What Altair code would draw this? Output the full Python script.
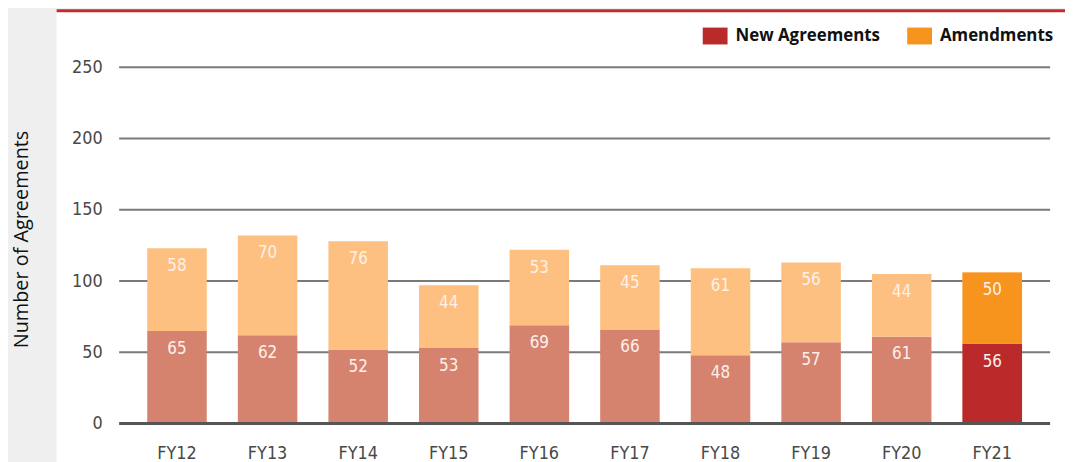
import altair as alt
import pandas as pd

years = ["FY12", "FY13", "FY14", "FY15", "FY16", "FY17", "FY18", "FY19", "FY20", "FY21"]
new_agreements = [65, 62, 52, 53, 69, 66, 48, 57, 61, 56]
amendments = [58, 70, 76, 44, 53, 45, 61, 56, 44, 50]
series_names = ["New Agreements", "Amendments"]
highlight_year = "FY21"
y_ticks = [0, 50, 100, 150, 200, 250]

rows = []
for i, yr in enumerate(years):
    rows.append({"year": yr, "series": series_names[0], "ord": 0, "value": new_agreements[i]})
    rows.append({"year": yr, "series": series_names[1], "ord": 1, "value": amendments[i]})
df = pd.DataFrame(rows)
grid_df = pd.DataFrame({"t": [t for t in y_ticks if t > 0]})

W, H = 938, 359
TICK_FONT = "DejaVu Sans Condensed"

x_axis = alt.Axis(title=None, labelAngle=0, domain=False, ticks=False, labelPadding=21,
                  labelFont=TICK_FONT, labelFontSize=18, labelColor="#484848", zindex=1)
x_enc = alt.X("year:N", sort=years,
              scale=alt.Scale(paddingInner=0.343, paddingOuter=0.31), axis=x_axis)
y_scale = alt.Scale(domain=[0, 250], nice=False)
y_axis = alt.Axis(title="Number of Agreements", values=y_ticks, domain=False, ticks=False,
                  grid=False, labelPadding=17, zindex=1,
                  labelFont=TICK_FONT, labelFontSize=18, labelColor="#484848",
                  titleFont="Open Sans", titleFontSize=20, titleFontWeight="normal",
                  titleColor="#111111", titleX=-92, titleY=173, titleAngle=270,
                  titleAlign="center", titleBaseline="alphabetic")

one = pd.DataFrame({"a": [0]})
panel = alt.Chart(one).mark_rect(color="white").encode(
    x=alt.value(-63), x2=alt.value(W + 20), y=alt.value(-57), y2=alt.value(H + 40)
)
redline = alt.Chart(one).mark_rule(color="#c62a2c", strokeWidth=3).encode(
    x=alt.value(-63), x2=alt.value(W + 20), y=alt.value(-57)
)

grid = alt.Chart(grid_df).mark_rule(color="#7a7a7a", strokeWidth=2).encode(
    y=alt.Y("t:Q", scale=y_scale, axis=y_axis), x=alt.value(0), x2=alt.value(W)
)

base = alt.Chart(df).transform_stack(
    stack="value", groupby=["year"], as_=["v0", "v1"],
    sort=[alt.SortField("ord", order="ascending")]
)

bars = base.mark_bar().encode(
    x=x_enc, y=alt.Y("v1:Q", scale=y_scale, axis=y_axis), y2="v0:Q",
    color=alt.Color("series:N", scale=alt.Scale(domain=series_names, range=["#d5836f", "#fdc080"]),
                    legend=None),
)

hl = base.transform_filter(alt.datum.year == highlight_year).mark_bar().encode(
    x=x_enc, y=alt.Y("v1:Q", scale=y_scale, axis=y_axis), y2="v0:Q",
    color=alt.Color("series:N", scale=alt.Scale(domain=series_names, range=["#bb2a2b", "#f7941e"]),
                    legend=alt.Legend(title=None, orient="none", legendX=588, legendY=-44,
                                      direction="horizontal",
                                      symbolType="M-1,-0.68H1V0.68H-1Z", symbolSize=625,
                                      symbolStrokeWidth=0, symbolOpacity=1,
                                      labelFont="Open Sans", labelFontWeight="bold",
                                      labelFontSize=17, labelColor="#111111",
                                      columnPadding=27, labelOffset=8)),
)

zero = alt.Chart(one).mark_rule(color="#555555", strokeWidth=3).encode(
    y=alt.value(H), x=alt.value(0), x2=alt.value(W)
)

labels = base.mark_text(dy=18, baseline="middle", color="#fdf1ea", fontSize=17, font=TICK_FONT).encode(
    x=x_enc, y=alt.Y("v1:Q", scale=y_scale, axis=y_axis), text="value:Q"
)

chart = alt.layer(panel, redline, grid, bars, hl, zero, labels).resolve_scale(color="independent").properties(
    width=W, height=H,
    background="#efefef",
    padding={"left": 112, "top": 58, "right": 15, "bottom": 37},
    autosize=alt.AutoSizeParams(type="none"),
).configure_view(stroke=None)

chart.save("out.html", embed_options={"renderer": "svg", "actions": False})
